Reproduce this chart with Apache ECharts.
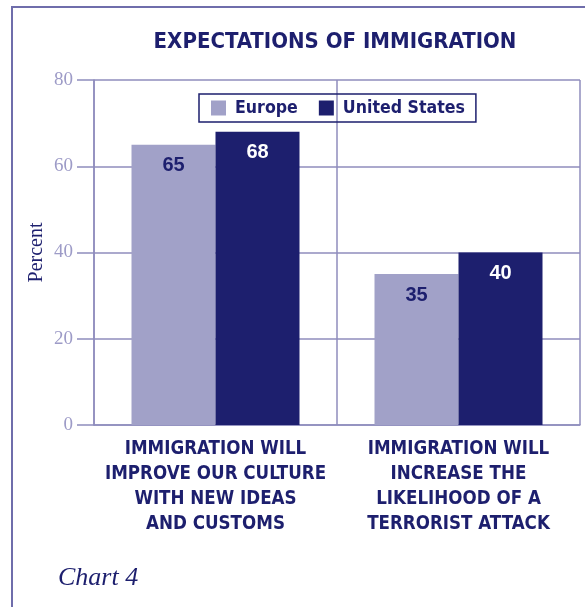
<!DOCTYPE html>
<html>
<head>
<meta charset="utf-8">
<script src="https://cdn.jsdelivr.net/npm/echarts@6/dist/echarts.min.js"></script>
<style>
  html, body { margin: 0; padding: 0; background: #ffffff; }
  #chart { width: 585px; height: 607px; }
</style>
</head>
<body>
<div id="chart"></div>
<script>
// Survey statements (x-axis categories)
const categories = [
  'IMMIGRATION WILL\nIMPROVE OUR CULTURE\nWITH NEW IDEAS\nAND CUSTOMS',
  'IMMIGRATION WILL\nINCREASE THE\nLIKELIHOOD OF A\nTERRORIST ATTACK'
];
// Percent agreeing
const europeValues = [65, 35];
const usValues = [68, 40];
// Value axis ticks
const yTicks = [0, 20, 40, 60, 80];

const NAVY = '#1d1f6e';
const LAVENDER = '#a1a1c8';
const GRID = '#8f8dbd';
const CONDENSED = '"DejaVu Sans Condensed", "Liberation Sans", sans-serif';
const SERIF = '"Liberation Serif", "DejaVu Serif", serif';
const SANS = '"Liberation Sans", Arial, sans-serif';

const chart = echarts.init(document.getElementById('chart'), null, { renderer: 'canvas' });

chart.setOption({
  animation: false,
  backgroundColor: '#ffffff',
  title: {
    text: 'EXPECTATIONS OF IMMIGRATION',
    left: 330,
    textAlign: 'center',
    top: 26,
    textStyle: {
      color: NAVY,
      fontFamily: CONDENSED,
      fontWeight: 'bold',
      fontSize: 22
    }
  },
  graphic: [
    {
      type: 'rect',
      shape: { x: 12, y: 7, width: 640, height: 660 },
      style: { fill: null, stroke: '#6f6dab', lineWidth: 2 },
      silent: true,
      z: -1
    },
    {
      type: 'text',
      x: 58,
      y: 578,
      style: {
        text: 'Chart 4',
        fill: NAVY,
        verticalAlign: 'middle',
        font: 'italic 26px "Liberation Serif", "DejaVu Serif", serif'
      }
    }
  ],
  legend: {
    left: 199,
    top: 94,
    orient: 'horizontal',
    itemWidth: 15,
    itemHeight: 15,
    itemGap: 21,
    padding: [5, 11, 5, 12],
    borderColor: NAVY,
    borderWidth: 1.5,
    icon: 'rect',
    textStyle: {
      color: NAVY,
      fontFamily: CONDENSED,
      fontWeight: 'bold',
      fontSize: 17.6,
      padding: [0, 0, 0, 4]
    },
    data: ['Europe', 'United States']
  },
  grid: {
    left: 94,
    right: 5,
    top: 80,
    bottom: 182,
    containLabel: false
  },
  xAxis: {
    type: 'category',
    data: categories,
    boundaryGap: true,
    axisLine: { show: true, lineStyle: { color: GRID, width: 1.5 } },
    axisTick: { show: false },
    splitLine: { show: true, lineStyle: { color: GRID, width: 1.5 } },
    axisLabel: {
      color: NAVY,
      fontFamily: CONDENSED,
      fontWeight: 'bold',
      fontSize: 18.6,
      lineHeight: 25,
      margin: 12,
      interval: 0,
      align: 'center'
    }
  },
  yAxis: {
    type: 'value',
    min: 0,
    max: 80,
    interval: 20,
    name: 'Percent',
    nameLocation: 'middle',
    nameRotate: 90,
    nameGap: 47,
    nameMoveOverlap: false,
    nameTextStyle: {
      color: NAVY,
      fontFamily: SERIF,
      fontSize: 20
    },
    axisLine: { show: true, lineStyle: { color: GRID, width: 1.5 } },
    axisTick: { show: true, length: 17, lineStyle: { color: GRID, width: 1.5 } },
    splitLine: { show: true, lineStyle: { color: GRID, width: 1.5 } },
    axisLabel: {
      color: '#9d9bc7',
      fontFamily: SERIF,
      fontSize: 19,
      margin: 21,
      formatter: function (v) { return yTicks.indexOf(v) >= 0 ? String(v) : ''; }
    }
  },
  series: [
    {
      name: 'Europe',
      type: 'bar',
      data: europeValues,
      barWidth: 84,
      barGap: '0%',
      itemStyle: { color: LAVENDER },
      label: {
        show: true,
        position: 'insideTop',
        distance: 11,
        color: NAVY,
        fontFamily: SANS,
        fontWeight: 'bold',
        fontSize: 20
      }
    },
    {
      name: 'United States',
      type: 'bar',
      data: usValues,
      barWidth: 84,
      barGap: '0%',
      itemStyle: { color: NAVY },
      label: {
        show: true,
        position: 'insideTop',
        distance: 11,
        color: '#ffffff',
        fontFamily: SANS,
        fontWeight: 'bold',
        fontSize: 20
      }
    }
  ]
});
</script>
</body>
</html>
